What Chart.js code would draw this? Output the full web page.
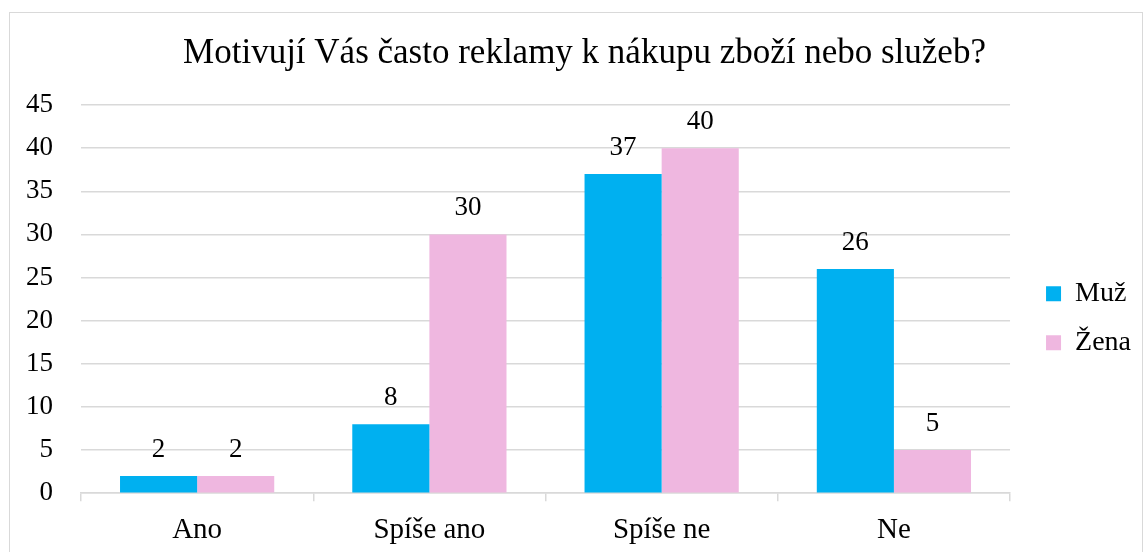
<!DOCTYPE html>
<html>
<head>
<meta charset="utf-8">
<script src="https://cdn.jsdelivr.net/npm/chart.js@4"></script>
<style>
	body { margin: 0; background: #fff; }
	#frame { position: absolute; left: 9px; top: 12px; width: 1132px; height: 560px; border: 1px solid #d9d9d9; }
	#chart { position: absolute; left: 0; top: 0; }
</style>
</head>
<body>
<div id="frame"></div>
<canvas id="chart" width="1145" height="552"></canvas>
<script>
const TITLE = 'Motivují Vás často reklamy k nákupu zboží nebo služeb?'
const categories = ['Ano', 'Spíše ano', 'Spíše ne', 'Ne']
const muz = [2, 8, 37, 26]
const zena = [2, 30, 40, 5]
const FONT = '"Liberation Serif", "Times New Roman", serif'

// value labels above the bars
const barLabels = {
	id: 'barLabels',
	afterDatasetsDraw(chart) {
		const ctx = chart.ctx
		ctx.save()
		ctx.font = '27px ' + FONT
		ctx.fillStyle = '#000'
		ctx.textAlign = 'center'
		ctx.textBaseline = 'bottom'
		chart.data.datasets.forEach(function(ds, i) {
			chart.getDatasetMeta(i).data.forEach(function(bar, j) {
				ctx.fillText(ds.data[j], bar.x, bar.y - 13)
			})
		})
		ctx.restore()
	}
}

// nudge title and legend a bit to the right, as in the original
const nudge = {
	id: 'nudge',
	afterLayout(chart) {
		chart.legend.left += 15
		chart.legend.right += 15
		chart.titleBlock.left += 12
		chart.titleBlock.right += 12
	}
}

new Chart(document.getElementById('chart'), {
	type: 'bar',
	data: {
		labels: categories,
		datasets: [
			{ label: 'Muž', data: muz, backgroundColor: '#00b0f0' },
			{ label: 'Žena', data: zena, backgroundColor: '#efb7e0' },
		]
	},
	options: {
		responsive: false,
		animation: false,
		layout: { padding: { left: 19, right: 19, top: 33, bottom: -8 } },
		datasets: { bar: { categoryPercentage: 0.664, barPercentage: 1 } },
		plugins: {
			title: {
				display: true,
				text: TITLE,
				color: '#000',
				font: { family: FONT, size: 35, weight: 'normal' },
				padding: { top: 0, bottom: 30 }
			},
			legend: {
				position: 'right',
				fullSize: false,
				title: { display: true, text: ' ', padding: 6, font: { size: 22 } },
				labels: {
					color: '#000',
					boxWidth: 15,
					boxHeight: 15,
					padding: 21,
					font: { family: FONT, size: 28 }
				}
			},
			tooltip: { enabled: false }
		},
		scales: {
			x: {
				grid: { drawOnChartArea: false, drawTicks: true, tickLength: 8, color: '#d9d9d9', lineWidth: 1.5 },
				border: { display: true, color: '#d9d9d9', width: 1.5 },
				ticks: { color: '#000', padding: 12, font: { family: FONT, size: 29 } }
			},
			y: {
				min: 0,
				max: 45,
				afterFit(scale) { scale.width = 62 },
				ticks: { stepSize: 5, color: '#000', padding: 28, font: { family: FONT, size: 27 } },
				grid: { color: '#d9d9d9', lineWidth: 1.5, drawTicks: false },
				border: { display: false }
			}
		}
	},
	plugins: [barLabels, nudge]
})
</script>
</body>
</html>
